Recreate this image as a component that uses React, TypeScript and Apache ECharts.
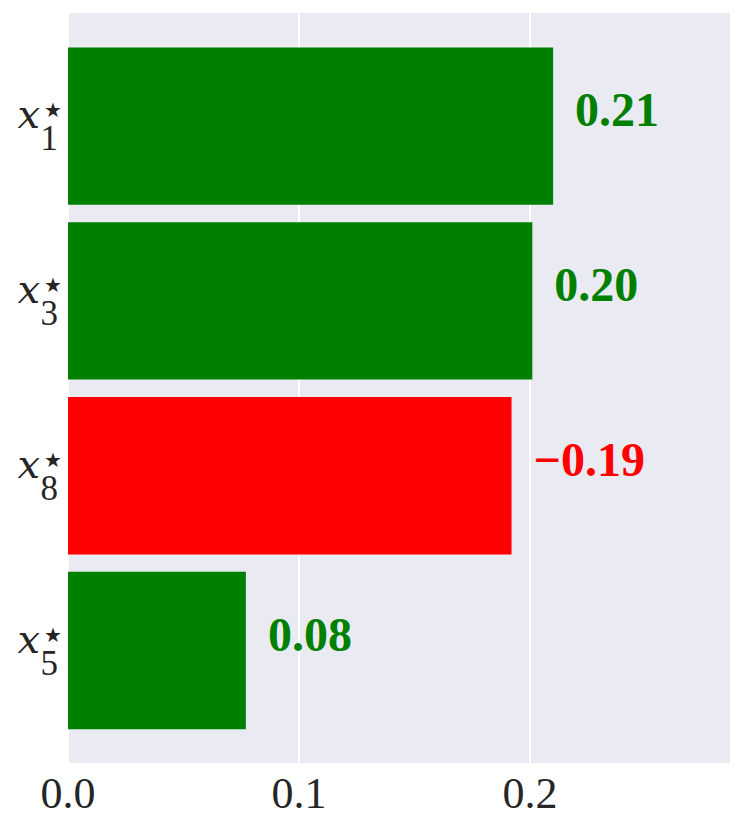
import React, { useEffect, useRef } from "react";
import * as echarts from "echarts";

const subscripts = ["1", "3", "8", "5"];
const values = [0.21, 0.201, -0.192, 0.077];
const xTicks = [0.0, 0.1, 0.2];

const GREEN = "#008000";
const RED = "#FF0000";
const TEXT = "#262626";

export default function App() {
  const ref = useRef<HTMLDivElement>(null);
  useEffect(() => {
    document.body.style.margin = "0";
    const chart = echarts.init(ref.current!, null, { renderer: "svg" });
    const xMin = 0;
    const xMax = 0.287;
    const cats = subscripts.map((s) => "x" + s);
    const labelAxis = (label: any) => ({
      gridIndex: 1,
      type: "category",
      position: "left",
      offset: 0,
      inverse: true,
      data: cats,
      axisLine: { show: false },
      axisTick: { show: false },
      splitLine: { show: false },
      axisLabel: { color: TEXT, ...label },
    });
    chart.setOption({
      animation: false,
      grid: [
        { left: 68, right: 14, top: 13, bottom: 68, show: true, backgroundColor: "#EAEAF2", borderWidth: 0 },
        { left: 68, right: 14, top: 38.8, bottom: 93.1 },
      ],
      xAxis: [
        {
          gridIndex: 0,
          type: "value",
          min: xMin,
          max: xMax,
          interval: 0.1,
          axisLine: { show: false },
          axisTick: { show: false },
          splitLine: { show: true, lineStyle: { color: "#ffffff", width: 2 } },
          axisLabel: {
            margin: 8,
            fontFamily: "Liberation Serif",
            fontSize: 44,
            color: TEXT,
            formatter: (v: number) => (xTicks.some((t) => Math.abs(t - v) < 1e-9) ? v.toFixed(1) : ""),
          },
        },
        { gridIndex: 1, type: "value", min: xMin, max: xMax, show: false },
      ],
      yAxis: [
        { gridIndex: 0, type: "value", show: false },
        labelAxis({
          margin: 28,
          fontFamily: "DejaVu Serif",
          fontStyle: "italic",
          fontSize: 40,
          verticalAlign: "bottom",
          lineHeight: 24,
          formatter: () => "x",
        }),
        labelAxis({
          margin: 10,
          fontFamily: "Liberation Serif",
          fontSize: 35,
          verticalAlign: "top",
          lineHeight: 25,
          formatter: (_v: string, i: number) => subscripts[i],
        }),
        labelAxis({
          margin: 6,
          fontFamily: "DejaVu Sans",
          fontSize: 20,
          verticalAlign: "bottom",
          lineHeight: 32,
          formatter: () => "★",
        }),
      ],
      series: [
        {
          type: "bar",
          xAxisIndex: 1,
          yAxisIndex: 1,
          barWidth: "90%",
          data: values.map((v) => ({
            value: Math.abs(v),
            itemStyle: { color: v >= 0 ? GREEN : RED },
            label: {
              show: true,
              position: "right",
              distance: 22,
              offset: [0, -16.5],
              fontFamily: "Liberation Serif",
              fontWeight: "bold",
              fontSize: 48,
              color: v >= 0 ? GREEN : RED,
              formatter: () => (v < 0 ? "\u2212" : "") + Math.abs(v).toFixed(2),
            },
          })),
        },
      ],
    });
    return () => chart.dispose();
  }, []);
  return <div ref={ref} style={{ position: "absolute", left: 0, top: 0, width: 745, height: 831 }} />;
}
